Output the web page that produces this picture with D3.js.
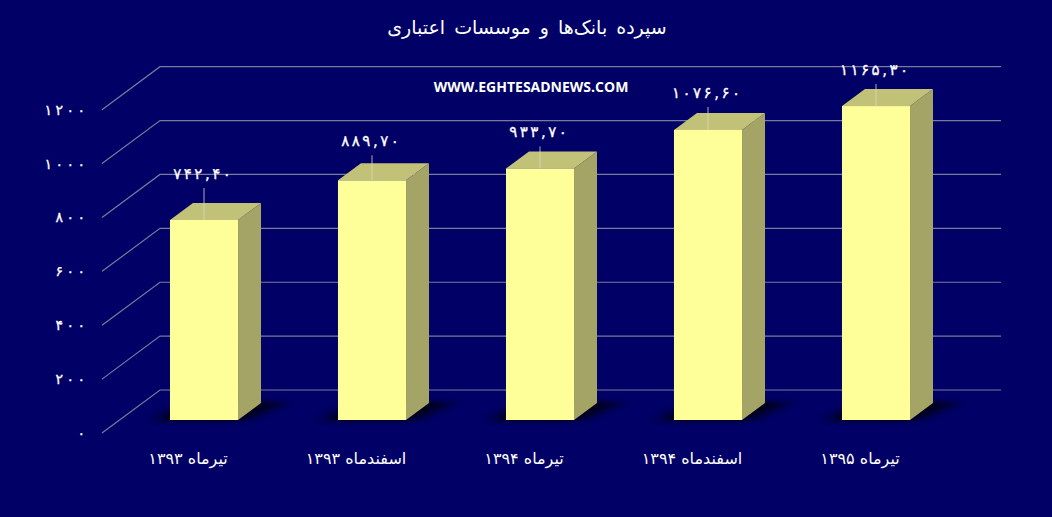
<!DOCTYPE html>
<html><head><meta charset="utf-8">
<script src="https://cdn.jsdelivr.net/npm/d3@7/dist/d3.min.js"></script>
<style>html,body{margin:0;padding:0;background:#000066;overflow:hidden}svg{display:block}</style>
</head><body><svg id="c" width="1052" height="517"></svg>
<script>
const categories = ["تیرماه ۱۳۹۳","اسفندماه ۱۳۹۳","تیرماه ۱۳۹۴","اسفندماه ۱۳۹۴","تیرماه ۱۳۹۵"];
const values = [742.4, 889.7, 933.7, 1076.6, 1165.3];
const valueLabels = ["۷۴۲,۴۰","۸۸۹,۷۰","۹۳۳,۷۰","۱۰۷۶,۶۰","۱۱۶۵,۳۰"];
const labelLift = [46, 39, 36, 37, 36];
const tickValues = [0,200,400,600,800,1000,1200];
const tickLabels = ["۰","۲۰۰","۴۰۰","۶۰۰","۸۰۰","۱۰۰۰","۱۲۰۰"];
const titleText = "سپرده بانک‌ها و موسسات اعتباری";
const watermark = "WWW.EGHTESADNEWS.COM";

const W=1052,H=517, FA="'DejaVu Sans',sans-serif";
const svg=d3.select("#c");
const yBack=d3.scaleLinear().domain([0,1200]).range([390,66.7]);
const x=d3.scaleBand().domain(categories).range([120,960]).paddingInner(0.595).paddingOuter(0.2975);
const depthX=23, depthY=17, baseOffset=30, wallX=58, wallY=43;
const yFront=v=>yBack(v)+baseOffset;
const spaced=(s,g)=>Array.from(s).map((c,i)=>i?g:0).join(" ");

const defs=svg.append("defs");
const f=defs.append("filter").attr("id","blur").attr("x","-50%").attr("y","-100%").attr("width","200%").attr("height","300%");
f.append("feGaussianBlur").attr("stdDeviation","8 2.5");

svg.append("rect").attr("width",W).attr("height",H).attr("fill","#000066");

const grid=svg.append("g").attr("fill","none").attr("stroke","#7a7a9e").attr("stroke-width",1.2);
tickValues.forEach(t=>{
  grid.append("path").attr("d",d3.line()([[160-wallX,yBack(t)+wallY],[160,yBack(t)],[1001,yBack(t)]]));
});

svg.append("g").selectAll("text").data(tickValues).join("text")
  .attr("x",85).attr("y",t=>yBack(t)+wallY+5)
  .attr("text-anchor","end").attr("fill","#fff").attr("stroke","#fff").attr("stroke-width",0.3)
  .attr("font-family",FA).attr("font-size",14).attr("direction","ltr")
  .attr("dx",(t,i)=>spaced(tickLabels[i],3.5))
  .text((t,i)=>tickLabels[i]);

// shadows
svg.append("g").selectAll("path").data(values).join("path")
  .attr("filter","url(#blur)").attr("fill","#000014")
  .attr("d",(v,i)=>{const l=x(categories[i]),r=l+x.bandwidth(),b=yFront(0);
    return d3.line()([[l-14,b+1],[r+6,b+1],[r+depthX+24,b-depthY-1],[r+depthX-4,b-depthY-1],[l,b-10]]);});

const bars=svg.append("g").selectAll("g").data(values).join("g");
bars.append("path").attr("fill","#a4a466").attr("d",(v,i)=>{
  const r=x(categories[i])+x.bandwidth(),t=yFront(v),b=yFront(0);
  return d3.line()([[r,t],[r+depthX,t-depthY],[r+depthX,b-depthY],[r,b]]);});
bars.append("path").attr("fill","#c1c178").attr("d",(v,i)=>{
  const l=x(categories[i]),r=l+x.bandwidth(),t=yFront(v);
  return d3.line()([[l,t],[r,t],[r+depthX,t-depthY],[l+depthX,t-depthY]]);});
bars.append("rect").attr("fill","#ffff99")
  .attr("x",(v,i)=>x(categories[i])).attr("width",x.bandwidth())
  .attr("y",v=>yFront(v)).attr("height",v=>yFront(0)-yFront(v));

// leaders
svg.append("g").selectAll("line").data(values).join("line")
  .attr("stroke","#d9d9c0").attr("stroke-width",1).attr("opacity",0.8)
  .attr("x1",(v,i)=>x(categories[i])+x.bandwidth()/2).attr("x2",(v,i)=>x(categories[i])+x.bandwidth()/2)
  .attr("y1",v=>yFront(v)).attr("y2",(v,i)=>yFront(v)-labelLift[i]+14);

svg.append("g").selectAll("text").data(values).join("text")
  .attr("x",(v,i)=>x(categories[i])+x.bandwidth()/2-2).attr("y",(v,i)=>yFront(v)-labelLift[i]+5)
  .attr("text-anchor","middle").attr("fill","#fff").attr("stroke","#fff").attr("stroke-width",0.3)
  .attr("font-family",FA).attr("font-size",15).attr("direction","ltr")
  .attr("dx",(v,i)=>spaced(valueLabels[i],2.5))
  .text((v,i)=>valueLabels[i]);

svg.append("g").selectAll("text").data(categories).join("text")
  .attr("x",d=>x(d)+x.bandwidth()/2-16).attr("y",464)
  .attr("text-anchor","middle").attr("fill","#fff").attr("font-family",FA).attr("font-size",16)
  .attr("direction","rtl").text(d=>d);

svg.append("text").attr("x",527).attr("y",34).attr("text-anchor","middle").attr("fill","#fff")
  .attr("font-family",FA).attr("font-size",19).attr("direction","rtl").attr("word-spacing",3).text(titleText);

svg.append("text").attr("x",531).attr("y",92).attr("text-anchor","middle").attr("fill","#fff")
  .attr("font-family","'Open Sans',sans-serif").attr("font-weight",700).attr("font-size",14)
  .text(watermark);
</script></body></html>
